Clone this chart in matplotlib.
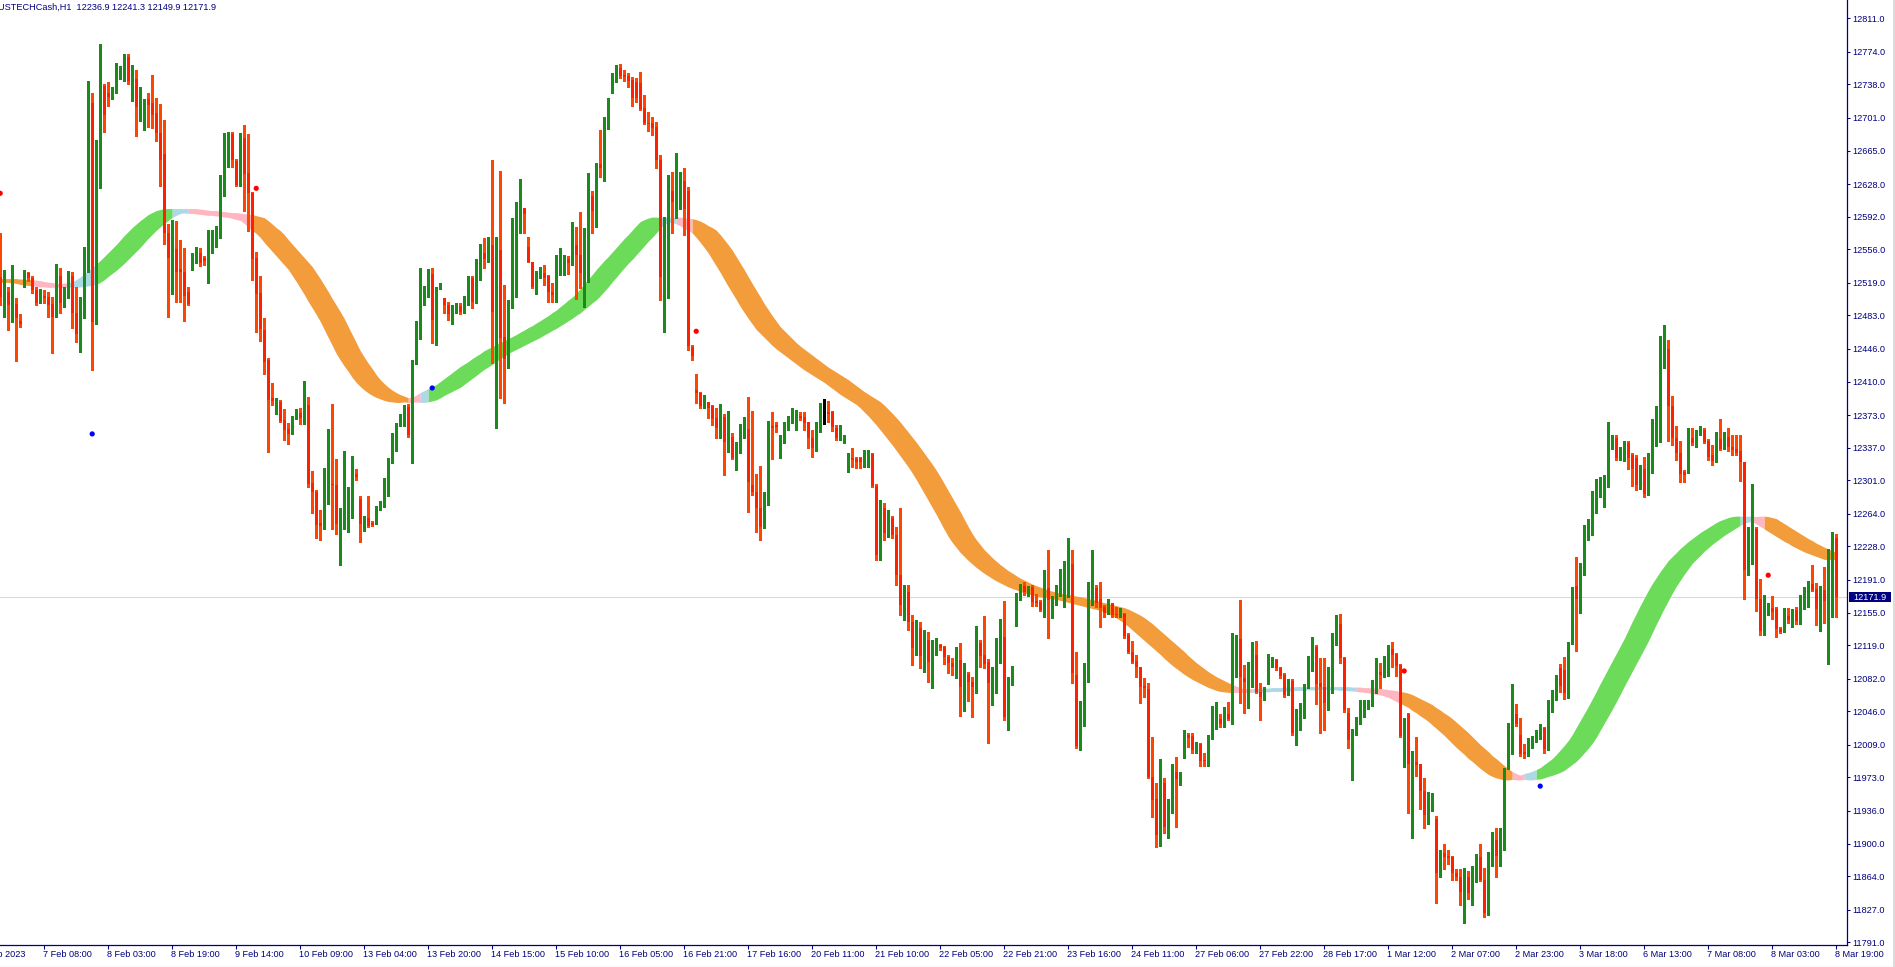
import matplotlib.pyplot as plt
from matplotlib.lines import Line2D
from matplotlib.patches import Rectangle
import numpy as np

plt.rcParams['font.family'] = ['Liberation Sans', 'DejaVu Sans']

# chart header
symbol = "USTECHCash,H1"
last_ohlc = "12236.9 12241.3 12149.9 12171.9"
current_price = 12171.9

# hourly candles, oldest first
opens = [
    12525.4, 12503.7, 12509.2, 12493.4, 12495.6, 12476.8, 12516.6, 12529.5, 12524.0, 12511.1,
    12497.0, 12504.8, 12503.7, 12495.6, 12481.6, 12526.5, 12498.2, 12508.1, 12526.5, 12485.3,
    12463.3, 12480.9, 12534.3, 12717.5, 12477.9, 12665.7, 12736.7, 12729.0, 12724.5, 12731.0,
    12748.2, 12752.0, 12768.2, 12740.6, 12743.6, 12713.6, 12719.0, 12721.4, 12717.5, 12706.8,
    12684.5, 12661.1, 12573.7, 12544.2, 12556.3, 12534.2, 12531.3, 12508.5, 12536.8, 12546.1,
    12551.6, 12546.7, 12541.2, 12555.2, 12569.2, 12569.9, 12622.3, 12668.4, 12683.7, 12653.0,
    12627.3, 12679.1, 12640.0, 12618.5, 12546.7, 12507.6, 12467.4, 12433.6, 12392.2, 12376.7,
    12387.4, 12367.5, 12357.6, 12352.2, 12369.1, 12375.3, 12370.2, 12383.7, 12298.1, 12287.7,
    12254.0, 12251.3, 12295.5, 12297.4, 12295.5, 12245.6, 12266.3, 12268.6, 12288.5, 12307.7,
    12280.1, 12253.2, 12258.9, 12254.0, 12253.2, 12272.4, 12276.3, 12295.5, 12320.4, 12335.8,
    12360.7, 12362.6, 12381.8, 12351.9, 12431.7, 12458.5, 12496.8, 12504.6, 12528.7, 12479.6,
    12512.9, 12501.9, 12495.0, 12485.3, 12491.1, 12493.1, 12487.3, 12499.6, 12523.8, 12498.8,
    12529.5, 12551.6, 12545.3, 12560.7, 12457.7, 12555.2, 12459.5, 12434.9, 12490.9, 12551.6,
    12589.4, 12601.3, 12558.2, 12542.3, 12514.7, 12525.8, 12529.5, 12526.9, 12508.5, 12504.8,
    12539.8, 12540.5, 12545.3, 12539.4, 12560.7, 12549.7, 12524.0, 12524.7, 12615.2, 12598.3,
    12649.8, 12645.4, 12698.7, 12730.7, 12741.0, 12755.8, 12748.4, 12747.6, 12742.9, 12740.3,
    12739.2, 12711.6, 12695.4, 12695.1, 12691.3, 12654.6, 12538.7, 12530.6, 12620.4, 12608.5,
    12621.5, 12631.4, 12620.4, 12448.5, 12400.7, 12397.0, 12383.3, 12387.1, 12383.3, 12369.4,
    12358.4, 12371.2, 12341.8, 12349.1, 12325.9, 12338.1, 12349.1, 12357.6, 12295.8, 12287.7,
    12270.8, 12248.7, 12277.4, 12361.3, 12362.0, 12328.9, 12342.9, 12363.9, 12365.0, 12369.4,
    12372.3, 12371.2, 12365.0, 12347.4, 12337.0, 12354.6, 12375.0, 12376.1, 12376.1, 12358.4,
    12346.6, 12348.0, 12323.4, 12325.9, 12324.5, 12325.3, 12320.9, 12325.9, 12329.7, 12295.0,
    12218.5, 12270.1, 12242.5, 12259.1, 12240.6, 12196.4, 12163.4, 12177.7, 12144.6, 12115.9,
    12137.9, 12107.1, 12124.7, 12100.4, 12118.1, 12119.2, 12117.3, 12106.3, 12099.0, 12095.2,
    12102.6, 12072.5, 12087.2, 12078.7, 12073.2, 12121.7, 12108.2, 12100.8, 12076.9, 12086.1,
    12110.0, 12127.7, 12039.4, 12076.9, 12144.9, 12173.3, 12184.3, 12178.0, 12182.9, 12168.1,
    12167.0, 12158.6, 12181.8, 12159.7, 12165.2, 12184.3, 12190.9, 12197.5, 12208.6, 12086.1,
    12007.7, 12054.8, 12088.6, 12165.2, 12181.8, 12169.6, 12160.8, 12154.7, 12165.2, 12153.4,
    12152.6, 12153.4, 12130.2, 12111.8, 12101.9, 12095.2, 12073.9, 12070.3, 11973.1, 11948.9,
    11909.4, 11966.5, 11919.4, 11940.0, 11979.3, 11972.4, 11995.2, 12019.9, 12018.7, 12003.3,
    12009.9, 11992.2, 11990.4, 12016.2, 12034.2, 12037.2, 12031.6, 12043.0, 12036.4, 12116.7,
    12125.5, 12082.4, 12081.3, 12097.1, 12108.2, 12067.6, 12060.4, 12083.5, 12099.6, 12102.6,
    12093.4, 12086.1, 12065.9, 12079.8, 12022.4, 12037.2, 12040.8, 12073.1, 12092.4, 12117.3,
    12076.9, 12073.1, 12055.5, 12066.5, 12122.8, 12142.4, 12104.5, 12044.5, 11980.4, 12022.4,
    12036.4, 12048.2, 12051.8, 12052.9, 12073.9, 12089.7, 12087.2, 12097.1, 12114.4, 12109.3,
    12097.1, 12018.7, 12043.0, 11986.7, 11990.0, 11987.8, 11958.1, 11931.1, 11947.1, 11926.7,
    11867.2, 11889.4, 11885.8, 11884.9, 11868.0, 11863.6, 11846.8, 11862.7, 11845.0, 11860.1,
    11884.9, 11860.1, 11822.8, 11877.0, 11903.6, 11886.7, 11904.5, 11983.4, 12012.2, 12043.3,
    12019.7, 12001.0, 12000.2, 12007.8, 12014.4, 12017.9, 12027.8, 12004.7, 12046.3, 12059.7,
    12093.4, 12092.0, 12066.7, 12121.7, 12183.9, 12168.8, 12205.2, 12245.9, 12250.3, 12285.0,
    12292.9, 12293.8, 12297.3, 12341.7, 12347.9, 12325.7, 12328.5, 12341.7, 12328.5, 12325.7,
    12294.7, 12313.8, 12285.9, 12315.1, 12352.4, 12369.2, 12441.1, 12446.4, 12382.6, 12347.9,
    12331.6, 12310.3, 12316.9, 12347.9, 12340.4, 12352.4, 12356.0, 12344.8, 12328.5, 12323.9,
    12346.2, 12337.3, 12349.2, 12338.2, 12336.0, 12332.9, 12321.3, 12201.6, 12210.5, 12247.2,
    12170.5, 12132.0, 12155.5, 12159.9, 12158.6, 12136.4, 12134.2, 12151.1, 12145.2, 12157.3,
    12143.0, 12172.3, 12173.2, 12186.5, 12180.8, 12155.5, 12179.5, 12167.4, 12180.8, 12236.9,
]
highs = [
    12574.0, 12533.1, 12514.7, 12538.7, 12502.2, 12484.6, 12533.1, 12531.3, 12526.5, 12514.7,
    12511.8, 12511.1, 12509.2, 12503.7, 12539.8, 12535.7, 12514.1, 12532.0, 12531.3, 12514.7,
    12503.7, 12558.2, 12741.3, 12729.0, 12676.1, 12782.7, 12738.6, 12740.7, 12734.7, 12761.7,
    12758.6, 12772.0, 12772.0, 12759.7, 12753.9, 12734.7, 12722.1, 12729.0, 12748.2, 12723.2,
    12716.4, 12698.3, 12583.9, 12588.3, 12587.2, 12566.3, 12557.1, 12514.7, 12551.6, 12558.2,
    12557.8, 12548.6, 12577.3, 12577.3, 12581.7, 12637.7, 12684.9, 12685.7, 12686.0, 12656.1,
    12684.9, 12693.3, 12682.9, 12619.7, 12552.5, 12526.5, 12480.4, 12435.5, 12408.6, 12391.4,
    12389.4, 12379.8, 12364.5, 12372.2, 12379.8, 12380.6, 12410.6, 12393.3, 12310.8, 12290.3,
    12268.5, 12314.6, 12357.6, 12385.7, 12324.2, 12270.5, 12333.0, 12293.5, 12328.0, 12313.8,
    12283.9, 12261.6, 12283.9, 12256.3, 12272.4, 12278.2, 12303.1, 12325.4, 12353.0, 12363.7,
    12374.1, 12383.7, 12385.7, 12434.3, 12476.5, 12535.2, 12516.0, 12534.1, 12535.2, 12514.9,
    12518.8, 12502.7, 12497.6, 12495.0, 12496.8, 12496.8, 12504.6, 12526.4, 12526.4, 12544.8,
    12561.5, 12568.1, 12569.9, 12654.6, 12569.9, 12642.4, 12516.6, 12500.0, 12590.9, 12608.5,
    12633.6, 12601.9, 12569.9, 12542.3, 12532.0, 12536.8, 12538.7, 12527.6, 12518.5, 12549.7,
    12557.8, 12549.7, 12548.9, 12586.5, 12581.0, 12597.5, 12579.2, 12639.9, 12620.4, 12650.9,
    12687.7, 12702.4, 12723.3, 12750.3, 12759.4, 12760.5, 12753.9, 12750.3, 12746.5, 12744.8,
    12752.1, 12726.3, 12707.2, 12702.4, 12696.9, 12660.1, 12592.0, 12638.0, 12641.0, 12662.0,
    12641.7, 12645.4, 12625.1, 12450.4, 12418.0, 12398.8, 12395.2, 12387.8, 12384.1, 12380.5,
    12384.9, 12373.9, 12377.5, 12352.9, 12343.6, 12362.8, 12371.2, 12393.3, 12377.5, 12307.6,
    12317.1, 12288.4, 12366.5, 12376.1, 12365.7, 12351.0, 12365.7, 12372.3, 12381.1, 12378.6,
    12376.1, 12376.7, 12365.7, 12356.5, 12365.7, 12386.0, 12390.7, 12388.5, 12377.5, 12362.0,
    12362.0, 12351.0, 12330.8, 12337.0, 12327.0, 12327.0, 12334.4, 12334.4, 12330.8, 12296.9,
    12279.3, 12275.9, 12268.2, 12261.6, 12249.4, 12270.4, 12185.4, 12185.4, 12152.3, 12146.8,
    12144.6, 12135.7, 12133.5, 12124.7, 12126.9, 12120.3, 12118.0, 12108.2, 12104.5, 12117.3,
    12121.7, 12099.0, 12089.7, 12084.2, 12140.1, 12124.7, 12151.2, 12103.4, 12095.2, 12126.6,
    12147.6, 12168.1, 12083.5, 12096.0, 12177.0, 12186.5, 12189.1, 12184.3, 12185.4, 12175.5,
    12168.9, 12201.9, 12224.1, 12173.3, 12185.4, 12202.7, 12212.2, 12237.0, 12224.1, 12111.8,
    12057.4, 12099.0, 12189.1, 12224.1, 12185.4, 12189.1, 12163.4, 12169.6, 12165.9, 12160.8,
    12159.7, 12154.2, 12132.1, 12123.9, 12108.2, 12095.2, 12082.4, 12076.9, 12018.0, 11966.5,
    11993.0, 11972.0, 11948.9, 11987.8, 11995.2, 11979.3, 12025.3, 12021.7, 12022.4, 12012.4,
    12011.3, 11999.6, 12019.9, 12051.8, 12056.6, 12043.0, 12051.1, 12056.6, 12132.8, 12130.2,
    12168.9, 12097.1, 12100.8, 12122.8, 12123.9, 12076.9, 12073.1, 12109.2, 12106.3, 12103.4,
    12095.2, 12087.9, 12081.3, 12081.3, 12048.2, 12055.5, 12076.1, 12107.0, 12127.7, 12119.2,
    12104.5, 12104.5, 12095.2, 12132.8, 12152.3, 12153.4, 12105.6, 12049.3, 12026.1, 12039.4,
    12058.5, 12058.5, 12058.5, 12080.5, 12104.5, 12099.0, 12107.0, 12119.2, 12122.8, 12110.0,
    12098.2, 12038.3, 12044.5, 12002.5, 12018.0, 11987.8, 11972.4, 11956.8, 11955.9, 11930.2,
    11892.4, 11899.1, 11892.4, 11886.7, 11871.6, 11871.6, 11872.5, 11870.2, 11874.8, 11888.0,
    11899.1, 11872.5, 11891.1, 11912.4, 11916.8, 11916.8, 11983.4, 12033.0, 12076.6, 12054.4,
    12038.8, 12010.0, 12016.6, 12018.8, 12025.5, 12032.2, 12028.7, 12058.8, 12069.8, 12086.3,
    12098.7, 12105.4, 12123.0, 12183.0, 12216.2, 12209.6, 12251.8, 12258.4, 12289.4, 12302.8,
    12305.0, 12306.3, 12364.8, 12351.4, 12351.4, 12338.2, 12344.8, 12344.8, 12331.6, 12329.4,
    12318.2, 12327.1, 12331.6, 12369.2, 12382.6, 12460.2, 12472.1, 12455.8, 12393.6, 12360.4,
    12344.8, 12312.5, 12358.2, 12358.2, 12356.0, 12361.3, 12358.2, 12347.0, 12340.4, 12353.8,
    12369.2, 12353.8, 12358.2, 12351.4, 12350.6, 12351.4, 12321.3, 12249.4, 12297.3, 12249.4,
    12191.8, 12174.0, 12165.2, 12173.2, 12160.8, 12138.6, 12159.9, 12159.9, 12158.6, 12160.8,
    12174.9, 12183.0, 12189.6, 12207.4, 12187.4, 12183.9, 12205.2, 12225.0, 12244.1, 12241.3,
]
lows = [
    12494.5, 12481.6, 12466.9, 12476.1, 12433.0, 12470.6, 12514.7, 12521.3, 12507.4, 12494.5,
    12497.0, 12497.0, 12481.6, 12441.8, 12481.6, 12485.3, 12492.6, 12501.9, 12469.5, 12454.0,
    12442.3, 12479.8, 12530.9, 12422.8, 12473.9, 12624.2, 12686.0, 12714.4, 12721.4, 12729.0,
    12744.3, 12741.3, 12738.6, 12719.4, 12681.1, 12697.6, 12687.6, 12690.7, 12689.9, 12675.3,
    12626.2, 12562.1, 12481.6, 12506.7, 12498.2, 12498.2, 12476.8, 12494.5, 12533.1, 12540.5,
    12537.6, 12538.7, 12519.1, 12551.6, 12558.9, 12568.5, 12614.8, 12646.5, 12646.5, 12625.4,
    12625.4, 12598.6, 12576.3, 12522.5, 12464.3, 12454.8, 12418.2, 12331.9, 12383.7, 12374.1,
    12365.2, 12345.3, 12341.5, 12351.9, 12368.3, 12362.6, 12362.6, 12293.5, 12264.8, 12237.1,
    12234.8, 12247.5, 12274.3, 12247.5, 12241.7, 12207.2, 12247.5, 12243.6, 12258.9, 12301.2,
    12233.3, 12244.8, 12249.4, 12250.1, 12252.4, 12268.5, 12271.6, 12283.9, 12320.4, 12333.8,
    12360.7, 12360.7, 12349.1, 12320.4, 12429.7, 12457.3, 12495.0, 12503.3, 12452.8, 12450.8,
    12512.2, 12485.3, 12477.7, 12473.9, 12485.3, 12484.2, 12485.3, 12495.0, 12491.1, 12496.8,
    12522.1, 12535.0, 12542.3, 12430.1, 12359.1, 12392.2, 12386.0, 12425.3, 12490.9, 12503.7,
    12573.7, 12573.7, 12541.6, 12513.0, 12506.3, 12524.7, 12516.6, 12497.5, 12498.2, 12498.2,
    12527.6, 12527.6, 12528.4, 12538.7, 12501.1, 12513.0, 12492.6, 12520.2, 12573.7, 12580.9,
    12636.1, 12631.4, 12688.8, 12728.2, 12740.3, 12744.8, 12741.8, 12735.5, 12714.5, 12718.9,
    12709.8, 12694.0, 12686.6, 12682.2, 12645.4, 12500.0, 12464.4, 12502.6, 12573.7, 12590.2,
    12600.5, 12571.8, 12444.8, 12433.8, 12386.0, 12381.1, 12380.5, 12369.4, 12362.0, 12347.4,
    12347.4, 12306.9, 12332.6, 12324.5, 12312.4, 12330.8, 12347.4, 12265.7, 12284.8, 12243.6,
    12235.1, 12248.0, 12273.7, 12324.5, 12354.6, 12325.9, 12341.8, 12356.5, 12363.9, 12356.5,
    12367.6, 12356.5, 12337.0, 12327.0, 12333.3, 12354.0, 12362.8, 12365.7, 12355.4, 12345.5,
    12345.5, 12341.8, 12309.8, 12316.0, 12314.9, 12314.9, 12316.0, 12316.0, 12293.9, 12213.0,
    12213.0, 12235.1, 12238.4, 12237.3, 12185.4, 12152.3, 12146.8, 12135.7, 12097.1, 12108.2,
    12093.8, 12089.4, 12078.3, 12071.7, 12108.2, 12113.7, 12098.2, 12087.9, 12086.1, 12082.4,
    12040.8, 12046.7, 12057.7, 12040.0, 12066.5, 12095.2, 12093.4, 12010.6, 12053.0, 12065.9,
    12099.6, 12036.4, 12025.3, 12075.0, 12140.2, 12168.9, 12174.4, 12173.3, 12162.3, 12162.3,
    12157.0, 12150.4, 12126.6, 12148.7, 12163.4, 12173.3, 12161.5, 12172.5, 12076.9, 12005.1,
    12003.3, 12029.8, 12078.7, 12163.4, 12160.8, 12138.7, 12149.8, 12153.4, 12149.8, 12149.8,
    12150.4, 12126.6, 12110.0, 12099.0, 12084.2, 12055.5, 12061.5, 11972.0, 11929.6, 11896.5,
    11897.3, 11911.3, 11905.8, 11933.4, 11918.6, 11964.7, 11994.1, 12006.9, 11999.6, 11999.6,
    11985.6, 11985.6, 11985.6, 12015.1, 12026.1, 12029.0, 12028.3, 12036.4, 12032.0, 12084.2,
    12055.5, 12044.5, 12049.3, 12073.1, 12065.9, 12036.4, 12058.5, 12076.1, 12095.2, 12091.6,
    12082.4, 12062.1, 12064.0, 12019.9, 12008.8, 12025.3, 12038.2, 12071.4, 12090.8, 12054.1,
    12021.7, 12025.3, 12047.4, 12065.9, 12119.2, 12099.0, 12045.6, 12005.1, 11970.2, 12019.9,
    12032.0, 12040.0, 12048.2, 12051.8, 12065.9, 12071.4, 12084.2, 12085.0, 12095.2, 12085.0,
    12017.3, 11984.8, 11934.1, 11905.8, 11974.5, 11938.1, 11916.8, 11922.1, 11935.5, 11834.8,
    11862.7, 11871.6, 11877.9, 11860.1, 11860.1, 11832.6, 11812.6, 11839.2, 11831.7, 11857.0,
    11859.2, 11819.3, 11821.6, 11874.8, 11862.7, 11874.8, 11892.4, 11982.5, 11998.9, 12030.0,
    11996.7, 11994.5, 11996.7, 12005.6, 12012.2, 12015.3, 12000.2, 12003.4, 12045.5, 12058.8,
    12067.6, 12059.7, 12061.0, 12120.8, 12112.9, 12154.2, 12196.2, 12235.3, 12240.6, 12265.0,
    12282.8, 12271.6, 12293.8, 12336.0, 12323.9, 12323.9, 12322.6, 12313.8, 12294.7, 12290.3,
    12291.6, 12282.8, 12285.0, 12309.4, 12339.1, 12343.5, 12424.6, 12344.8, 12340.4, 12323.9,
    12299.1, 12299.1, 12309.4, 12340.4, 12338.2, 12350.6, 12341.7, 12323.9, 12318.2, 12321.3,
    12334.7, 12336.0, 12333.8, 12328.5, 12328.5, 12300.4, 12169.6, 12196.2, 12208.7, 12156.4,
    12129.8, 12130.7, 12152.0, 12148.3, 12127.6, 12132.0, 12133.3, 12143.9, 12138.6, 12142.1,
    12142.1, 12158.6, 12160.8, 12178.6, 12140.8, 12134.2, 12143.0, 12098.6, 12149.6, 12149.9,
]
closes = [
    12503.3, 12510.0, 12494.5, 12497.0, 12479.8, 12473.2, 12529.5, 12524.0, 12511.1, 12497.0,
    12504.4, 12502.6, 12494.5, 12481.6, 12526.5, 12496.4, 12509.2, 12526.5, 12485.3, 12462.2,
    12481.6, 12535.0, 12706.8, 12475.7, 12662.6, 12737.5, 12704.8, 12724.5, 12732.1, 12749.0,
    12752.8, 12768.2, 12741.3, 12743.6, 12713.6, 12719.4, 12721.4, 12715.6, 12704.0, 12684.9,
    12654.5, 12574.4, 12546.1, 12557.1, 12531.3, 12531.3, 12504.8, 12495.6, 12546.7, 12551.6,
    12541.2, 12543.1, 12556.3, 12569.2, 12571.8, 12622.2, 12668.4, 12684.9, 12654.2, 12627.3,
    12678.4, 12638.9, 12618.5, 12545.6, 12506.4, 12468.1, 12431.6, 12389.4, 12388.3, 12387.4,
    12366.3, 12356.9, 12352.2, 12370.2, 12375.3, 12370.2, 12382.9, 12297.4, 12287.7, 12251.3,
    12250.1, 12295.5, 12307.7, 12296.2, 12253.2, 12266.7, 12267.8, 12288.5, 12307.7, 12305.1,
    12253.2, 12258.9, 12250.1, 12251.3, 12271.6, 12277.4, 12296.2, 12321.2, 12335.8, 12360.7,
    12363.7, 12381.8, 12351.1, 12430.5, 12460.4, 12498.0, 12504.6, 12527.6, 12477.7, 12514.2,
    12516.8, 12494.2, 12484.2, 12491.1, 12493.1, 12487.3, 12499.6, 12522.5, 12498.0, 12529.5,
    12551.6, 12545.3, 12561.5, 12486.5, 12563.0, 12457.7, 12434.9, 12490.9, 12553.4, 12588.3,
    12600.5, 12595.0, 12542.3, 12514.7, 12528.4, 12529.5, 12524.7, 12508.5, 12505.5, 12539.4,
    12541.2, 12545.3, 12540.5, 12560.7, 12549.7, 12529.5, 12529.5, 12615.2, 12598.3, 12648.3,
    12645.4, 12701.3, 12712.3, 12741.8, 12756.5, 12747.6, 12746.5, 12741.8, 12723.3, 12723.3,
    12710.9, 12695.1, 12694.0, 12690.2, 12654.6, 12525.8, 12555.2, 12615.9, 12608.5, 12621.5,
    12631.4, 12600.5, 12449.6, 12438.5, 12397.0, 12383.3, 12386.0, 12380.5, 12368.7, 12358.4,
    12371.2, 12342.9, 12349.1, 12325.9, 12339.2, 12351.0, 12360.2, 12298.8, 12288.4, 12270.8,
    12249.8, 12276.7, 12361.3, 12359.1, 12359.8, 12343.6, 12363.9, 12365.7, 12368.7, 12373.1,
    12370.1, 12363.9, 12348.0, 12337.0, 12355.4, 12375.0, 12375.0, 12373.9, 12360.2, 12348.0,
    12348.8, 12349.9, 12327.0, 12323.4, 12321.5, 12320.9, 12327.0, 12329.7, 12295.0, 12218.5,
    12266.0, 12242.5, 12266.3, 12240.6, 12196.4, 12163.4, 12177.7, 12144.6, 12115.9, 12137.9,
    12107.1, 12124.7, 12100.4, 12118.1, 12119.2, 12115.5, 12105.6, 12099.0, 12095.2, 12101.9,
    12072.5, 12087.2, 12078.7, 12072.5, 12121.7, 12107.0, 12098.2, 12076.9, 12086.1, 12111.8,
    12126.6, 12039.4, 12080.5, 12082.4, 12175.5, 12184.3, 12178.0, 12182.9, 12167.0, 12165.9,
    12157.8, 12181.8, 12168.9, 12165.9, 12184.3, 12190.9, 12197.5, 12207.5, 12088.6, 12007.7,
    12055.5, 12091.6, 12165.9, 12179.9, 12165.2, 12159.7, 12154.7, 12165.2, 12152.3, 12152.0,
    12154.7, 12129.1, 12111.8, 12100.8, 12094.6, 12072.5, 12071.4, 11973.1, 11948.1, 11909.4,
    11965.7, 11918.6, 11940.0, 11981.2, 11970.9, 11973.8, 12019.9, 12016.2, 12003.3, 12009.9,
    11991.5, 11990.8, 12016.2, 12034.5, 12037.2, 12031.6, 12041.9, 12037.5, 12117.3, 12126.6,
    12083.5, 12078.7, 12097.1, 12107.0, 12067.6, 12061.5, 12071.4, 12100.8, 12102.6, 12093.4,
    12085.0, 12064.0, 12078.7, 12022.4, 12037.2, 12040.8, 12073.1, 12095.2, 12116.7, 12076.1,
    12073.1, 12055.5, 12067.6, 12123.9, 12142.4, 12104.5, 12047.4, 12014.3, 12023.5, 12036.4,
    12049.3, 12052.9, 12053.7, 12073.9, 12098.2, 12086.1, 12098.2, 12112.9, 12108.2, 12096.0,
    12018.7, 12028.3, 11987.8, 11988.6, 11986.5, 11957.7, 11931.1, 11944.3, 11951.4, 11867.2,
    11890.2, 11884.9, 11884.0, 11867.2, 11863.6, 11846.8, 11870.2, 11845.0, 11862.7, 11884.9,
    11860.1, 11822.8, 11877.0, 11903.6, 11886.7, 11904.5, 11979.9, 12012.2, 12047.7, 12032.2,
    11998.9, 11998.9, 12009.1, 12015.3, 12019.7, 12028.7, 12004.7, 12047.7, 12059.7, 12074.4,
    12074.4, 12066.7, 12121.7, 12173.2, 12169.6, 12205.2, 12245.9, 12250.3, 12285.9, 12293.8,
    12299.1, 12305.0, 12342.6, 12347.9, 12325.7, 12329.4, 12340.4, 12325.7, 12313.8, 12296.0,
    12315.1, 12285.9, 12328.5, 12353.8, 12368.3, 12441.1, 12445.5, 12383.5, 12347.9, 12331.6,
    12308.1, 12306.3, 12347.9, 12341.7, 12353.8, 12356.0, 12343.5, 12327.1, 12322.6, 12344.8,
    12336.0, 12349.2, 12337.3, 12334.7, 12331.6, 12321.3, 12201.6, 12210.5, 12247.2, 12170.5,
    12134.2, 12158.6, 12159.9, 12155.5, 12136.4, 12133.3, 12151.1, 12146.5, 12157.3, 12145.2,
    12173.2, 12174.0, 12186.5, 12179.5, 12158.6, 12168.8, 12167.4, 12180.8, 12234.0, 12171.9,
]

# smoothed trend line (centre of the ribbon), one value per candle
trend_line = [
    12522.1, 12522.1, 12521.6, 12521.6, 12521.0, 12521.0, 12520.5, 12519.9, 12518.8, 12518.2,
    12517.7, 12517.1, 12516.6, 12516.0, 12516.0, 12515.5, 12515.5, 12516.0, 12516.6, 12517.1,
    12517.7, 12518.8, 12521.0, 12523.8, 12527.6, 12530.9, 12534.2, 12538.1, 12542.0, 12546.4,
    12550.8, 12555.2, 12559.6, 12564.6, 12569.6, 12574.0, 12578.4, 12582.3, 12586.1, 12589.4,
    12592.8, 12595.0, 12597.2, 12598.3, 12599.4, 12599.4, 12599.4, 12598.8, 12598.3, 12597.7,
    12597.2, 12597.2, 12596.6, 12596.1, 12595.5, 12595.0, 12595.0, 12594.4, 12593.9, 12593.3,
    12592.8, 12591.6, 12590.5, 12589.4, 12586.1, 12582.3, 12578.4, 12575.1, 12570.7, 12565.2,
    12560.2, 12555.2, 12550.3, 12545.3, 12540.3, 12535.4, 12528.7, 12522.1, 12514.9, 12507.8,
    12500.0, 12492.9, 12485.7, 12478.0, 12469.1, 12460.3, 12451.5, 12442.6, 12435.5, 12428.8,
    12422.8, 12416.1, 12410.6, 12406.2, 12402.3, 12399.0, 12396.3, 12394.1, 12392.4, 12390.7,
    12389.6, 12389.1, 12388.5, 12388.5, 12389.1, 12390.2, 12391.3, 12393.5, 12396.3, 12398.5,
    12400.7, 12402.9, 12405.1, 12408.4, 12411.7, 12415.0, 12418.3, 12421.7, 12425.0, 12427.7,
    12430.5, 12433.8, 12436.6, 12439.3, 12442.6, 12444.8, 12447.0, 12449.2, 12451.5, 12453.7,
    12455.9, 12458.1, 12460.3, 12463.0, 12465.3, 12468.0, 12470.2, 12473.0, 12475.7, 12478.5,
    12481.3, 12484.6, 12487.3, 12491.2, 12494.5, 12498.4, 12501.7, 12506.1, 12511.1, 12516.0,
    12521.6, 12526.5, 12532.0, 12537.0, 12542.0, 12546.4, 12551.4, 12556.3, 12561.3, 12566.3,
    12570.7, 12575.6, 12580.6, 12585.0, 12587.2, 12588.9, 12590.0, 12590.0, 12589.4, 12588.9,
    12588.3, 12587.2, 12585.6, 12583.4, 12580.6, 12578.4, 12575.6, 12570.7, 12565.2, 12559.6,
    12553.6, 12546.4, 12539.2, 12532.0, 12524.3, 12516.6, 12509.4, 12502.2, 12494.5, 12487.9,
    12481.3, 12475.2, 12469.1, 12464.7, 12460.3, 12455.9, 12451.5, 12447.6, 12444.3, 12441.0,
    12437.7, 12434.3, 12431.0, 12427.7, 12424.4, 12421.7, 12418.9, 12416.1, 12413.4, 12410.6,
    12407.3, 12404.0, 12400.7, 12397.4, 12394.6, 12391.8, 12389.1, 12386.3, 12382.5, 12378.0,
    12373.6, 12368.7, 12363.7, 12358.2, 12352.7, 12347.1, 12341.6, 12335.5, 12329.5, 12323.4,
    12317.3, 12310.7, 12303.5, 12295.8, 12288.1, 12280.4, 12272.6, 12264.9, 12256.6, 12248.3,
    12240.6, 12234.0, 12228.5, 12222.9, 12218.5, 12214.1, 12210.2, 12206.4, 12203.1, 12199.8,
    12197.0, 12194.2, 12191.5, 12189.3, 12187.1, 12184.9, 12183.2, 12181.6, 12179.9, 12178.2,
    12177.1, 12176.0, 12174.9, 12173.8, 12173.3, 12172.7, 12171.6, 12171.1, 12170.0, 12168.9,
    12167.8, 12166.7, 12165.5, 12164.4, 12163.3, 12162.2, 12161.1, 12160.0, 12158.9, 12157.3,
    12155.1, 12152.9, 12150.6, 12147.9, 12144.6, 12141.3, 12137.4, 12133.5, 12129.7, 12125.8,
    12121.9, 12118.1, 12114.2, 12110.4, 12105.9, 12102.1, 12098.2, 12094.9, 12091.6, 12088.3,
    12085.5, 12082.8, 12080.5, 12078.3, 12076.1, 12073.9, 12072.3, 12070.6, 12069.5, 12069.0,
    12068.4, 12068.4, 12068.4, 12069.0, 12069.0, 12069.5, 12069.5, 12069.5, 12070.1, 12070.1,
    12070.1, 12070.6, 12070.6, 12070.6, 12071.2, 12071.2, 12071.2, 12071.7, 12071.7, 12071.7,
    12071.7, 12071.7, 12071.7, 12071.7, 12071.7, 12071.2, 12071.2, 12071.2, 12070.6, 12070.6,
    12070.1, 12070.1, 12069.5, 12069.0, 12068.4, 12067.9, 12067.3, 12066.2, 12065.6, 12064.5,
    12062.9, 12060.7, 12058.5, 12056.3, 12054.1, 12051.8, 12048.5, 12045.8, 12042.5, 12039.7,
    12036.4, 12032.5, 12028.7, 12024.8, 12020.9, 12016.5, 12012.1, 12007.7, 12003.8, 12000.0,
    11995.5, 11992.2, 11988.4, 11984.5, 11981.2, 11977.9, 11975.7, 11974.0, 11972.9, 11971.8,
    11971.8, 11972.4, 11972.9, 11974.0, 11975.7, 11976.8, 11978.4, 11980.1, 11982.3, 11985.6,
    11988.9, 11992.2, 11996.7, 12001.6, 12006.6, 12012.1, 12018.7, 12026.5, 12034.2, 12041.9,
    12049.6, 12057.9, 12066.2, 12075.0, 12083.3, 12091.6, 12099.9, 12108.1, 12116.4, 12124.7,
    12134.1, 12143.5, 12152.3, 12161.1, 12169.4, 12177.7, 12185.4, 12192.0, 12198.7, 12204.7,
    12210.8, 12215.2, 12219.6, 12224.1, 12227.9, 12231.8, 12235.1, 12238.4, 12241.7, 12244.5,
    12247.2, 12250.0, 12252.8, 12255.0, 12256.6, 12258.3, 12259.4, 12259.9, 12259.9, 12259.4,
    12258.3, 12257.2, 12254.4, 12251.7, 12248.9, 12246.1, 12243.4, 12240.6, 12237.9, 12235.1,
    12232.9, 12230.1, 12227.9, 12225.7, 12223.5, 12221.8, 12220.2, 12218.5, 12216.9, 12215.2,
]

# ribbon colour state: (first candle, last candle, state)
trend_segments = [
    (0, 7, 'down'), (8, 16, 'weak_down'), (17, 23, 'weak_up'), (24, 42, 'up'),
    (43, 46, 'weak_up'), (47, 62, 'weak_down'), (63, 101, 'down'), (102, 104, 'weak_down'),
    (105, 106, 'weak_up'), (107, 164, 'up'), (165, 168, 'weak_up'), (169, 172, 'weak_down'),
    (173, 307, 'down'), (308, 312, 'weak_down'), (313, 338, 'weak_up'), (339, 349, 'weak_down'),
    (350, 377, 'down'), (378, 380, 'weak_down'), (381, 383, 'weak_up'), (384, 434, 'up'),
    (435, 437, 'weak_up'), (438, 440, 'weak_down'), (441, 459, 'down'),
]

# signal dots
signal_bars = [0, 23, 64, 108, 174, 351, 385, 442]
signal_prices = [12617.8, 12352.2, 12623.3, 12402.9, 12465.5, 12090.5, 11963.4, 12196.2]
signal_sides = ['sell', 'buy', 'sell', 'buy', 'sell', 'sell', 'buy', 'sell']

price_labels = [
    "11791.0", "11827.0", "11864.0", "11900.0", "11936.0", "11973.0", "12009.0", "12046.0",
    "12082.0", "12119.0", "12155.0", "12191.0", "12228.0", "12264.0", "12301.0", "12337.0",
    "12373.0", "12410.0", "12446.0", "12483.0", "12519.0", "12556.0", "12592.0", "12628.0",
    "12665.0", "12701.0", "12738.0", "12774.0", "12811.0",
]
time_labels = [
    "6 Feb 2023", "7 Feb 08:00", "8 Feb 03:00", "8 Feb 19:00", "9 Feb 14:00", "10 Feb 09:00",
    "13 Feb 04:00", "13 Feb 20:00", "14 Feb 15:00", "15 Feb 10:00", "16 Feb 05:00",
    "16 Feb 21:00", "17 Feb 16:00", "20 Feb 11:00", "21 Feb 10:00", "22 Feb 05:00",
    "22 Feb 21:00", "23 Feb 16:00", "24 Feb 11:00", "27 Feb 06:00", "27 Feb 22:00",
    "28 Feb 17:00", "1 Mar 12:00", "2 Mar 07:00", "2 Mar 23:00", "3 Mar 18:00",
    "6 Mar 13:00", "7 Mar 08:00", "8 Mar 03:00", "8 Mar 19:00",
]

NAVY = '#000080'
BULL = '#1A8A1A'
BEAR_BODY = '#FF2000'
BEAR_WICK = '#FF4500'
state_colors = {'up': '#6CDB5A', 'down': '#F29C3C', 'weak_up': '#ADD8E6', 'weak_down': '#FFB6C1'}

W, H = 1895, 967
plot_w, plot_h = 1847, 945
fig = plt.figure(figsize=(W / 100, H / 100), dpi=100)
ax = fig.add_axes([0, (H - plot_h) / H, plot_w / W, plot_h / H])

o = np.array(opens)
hi = np.array(highs)
lo = np.array(lows)
c = np.array(closes)
n = len(o)
x = np.arange(n)

ymin, ymax = 11788.0, 12831.2
ax.set_ylim(ymin, ymax)
ax.set_xlim(-0.05, (plot_w - 0.2) / 4)
ppx = (ymax - ymin) / plot_h  # price per pixel

# current price line
ax.axhline(current_price, color='#D8D8D8', lw=0.75, zorder=0.5)

# trend ribbon: spread of the line over +-3 candles
t = np.array(trend_line)
a = t[np.clip(x - 3, 0, n - 1)]
b = t[np.clip(x + 3, 0, n - 1)]
rib_lo = np.minimum(np.minimum(a, b), t) - 1.4 * ppx
rib_hi = np.maximum(np.maximum(a, b), t) + 1.4 * ppx
for s, e, state in trend_segments:
    sl = slice(s, min(e + 2, n))
    ax.fill_between(x[sl], rib_lo[sl], rib_hi[sl], color=state_colors[state], lw=0, zorder=1)

# candles
up = c > o
down = c < o
body_col = np.where(up, BULL, np.where(down, BEAR_BODY, 'black'))
wick_col = np.where(up, BULL, np.where(down, BEAR_WICK, 'black'))
top = np.maximum(np.maximum(o, c), hi)
bot = np.minimum(np.minimum(o, c), lo)
ax.vlines(x, bot, top, colors=wick_col, lw=0.75, antialiased=False, zorder=3)
body_lo = np.minimum(o, c)
body_h = np.maximum(np.abs(c - o), ppx)
ax.bar(x, body_h, bottom=body_lo, width=0.72, color=body_col, lw=0, antialiased=False, zorder=3.5)

# signal dots
sig_col = ['#FF0000' if s == 'sell' else '#0000FF' for s in signal_sides]
ax.scatter(signal_bars, signal_prices, s=14, c=sig_col, lw=0, zorder=5)

# axes styling
for side in ['top', 'left']:
    ax.spines[side].set_visible(False)
for side in ['right', 'bottom']:
    ax.spines[side].set_color(NAVY)
    ax.spines[side].set_linewidth(0.9)

ax.yaxis.tick_right()
ax.set_yticks([float(v) for v in price_labels])
ax.set_yticklabels(price_labels)
ax.tick_params(axis='y', direction='out', length=2.5, width=0.75, color=NAVY,
               labelcolor=NAVY, labelsize=6.6, pad=1.5)

label_bars = [n - 1 - 16 * (len(time_labels) - 1 - k) for k in range(len(time_labels))]
ax.set_xticks([v for v in label_bars if v >= 0])
ax.set_xticklabels([])
ax.tick_params(axis='x', direction='out', length=3, width=0.75, color=NAVY)
for v, lab in zip(label_bars, time_labels):
    ax.text(v - 0.3, -9.2 / plot_h, lab, transform=ax.get_xaxis_transform(), ha='left',
            va='center', fontsize=6.6, color=NAVY, clip_on=False)

# current price tag on the price scale
ty = (ymax - current_price) / ppx
fig.add_artist(Rectangle((1849 / W, 1 - (ty + 5) / H), 42 / W, 10 / H,
                         transform=fig.transFigure, fc=NAVY, ec='none'))
fig.text(1870 / W, 1 - (ty + 0.3) / H, f"{current_price:.1f}", ha='center', va='center',
         fontsize=6.6, color='white')

# header
fig.text(-1.5 / W, 1 - 7 / H, f"{symbol}  {last_ohlc}", ha='left', va='center',
         fontsize=6.6, color=NAVY)

# window frame
fig.add_artist(Line2D([1893.5 / W] * 2, [0, 1], color='#DCDCDC', lw=1.4, transform=fig.transFigure))
fig.add_artist(Line2D([0, 1], [0.5 / H] * 2, color='#DCDCDC', lw=1.0, transform=fig.transFigure))

fig.savefig('out.png', dpi=100, facecolor='white')
